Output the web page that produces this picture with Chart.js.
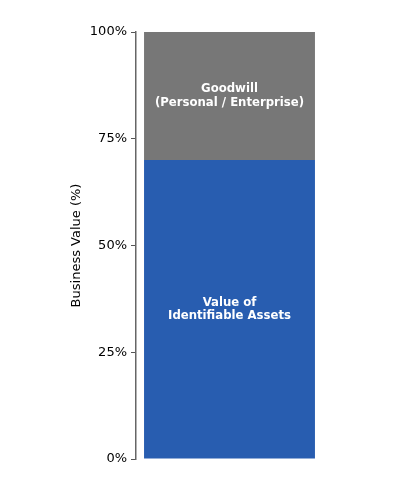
<!DOCTYPE html>
<html>
<head>
<meta charset="utf-8">
<script src="https://cdn.jsdelivr.net/npm/chart.js@4"></script>
<style>
  html, body { margin: 0; padding: 0; background: #fff; }
  #wrap { width: 402px; height: 492px; }
</style>
</head>
<body>
<div id="wrap"><canvas id="valueChart"></canvas></div>
<script>
// data
var categories = ['Business'];
var assetValues = [70];
var goodwillValues = [30];
var seriesNames = ['Value of\nIdentifiable Assets', 'Goodwill\n(Personal / Enterprise)'];
var yTicks = [0, 25, 50, 75, 100];

// write each segment's name in the middle of its bar piece
var segmentLabels = {
    id: 'segmentLabels',
    afterDatasetsDraw: function (chart) {
        var ctx = chart.ctx;
        ctx.save();
        ctx.fillStyle = '#ffffff';
        ctx.font = 'bold 11.7px "DejaVu Sans"';
        ctx.textAlign = 'center';
        ctx.textBaseline = 'middle';
        chart.data.datasets.forEach(function (ds, i) {
            var meta = chart.getDatasetMeta(i);
            meta.data.forEach(function (bar) {
                var cy = (bar.y + bar.base) / 2;
                var lines = ds.label.split('\n');
                var lh = 13.5;
                lines.forEach(function (line, k) {
                    ctx.fillText(line, bar.x, cy + (k - (lines.length - 1) / 2) * lh);
                });
            });
        });
        ctx.restore();
    }
};

var ctx = document.getElementById('valueChart').getContext('2d');
var valueChart = new Chart(ctx, {
    type: 'bar',
    data: {
        labels: categories,
        datasets: [
            {
                label: seriesNames[0],
                data: assetValues,
                backgroundColor: '#285db0',
                borderWidth: 0,
                categoryPercentage: 1,
                barPercentage: 0.914
            },
            {
                label: seriesNames[1],
                data: goodwillValues,
                backgroundColor: '#777777',
                borderWidth: 0,
                categoryPercentage: 1,
                barPercentage: 0.914
            }
        ]
    },
    options: {
        responsive: true,
        maintainAspectRatio: false,
        animation: false,
        layout: { padding: { left: 69, right: 79, top: 32, bottom: 33 } },
        plugins: {
            legend: { display: false },
            tooltip: { enabled: false }
        },
        scales: {
            x: {
                stacked: true,
                display: false
            },
            y: {
                stacked: true,
                min: 0,
                max: 100,
                afterFit: function (scale) { scale.width = 67; },
                afterBuildTicks: function (scale) {
                    scale.ticks = yTicks.map(function (v) { return { value: v }; });
                },
                ticks: {
                    color: '#000',
                    padding: 4,
                    font: { family: '"DejaVu Sans"', size: 13 },
                    callback: function (v) { return v + '%'; }
                },
                grid: {
                    drawOnChartArea: false,
                    drawTicks: true,
                    tickLength: 5,
                    color: '#555',
                    lineWidth: 1
                },
                border: { display: true, color: '#666', width: 1.5 },
                title: {
                    display: true,
                    text: 'Business Value (%)',
                    color: '#000',
                    padding: 0,
                    font: { family: '"DejaVu Sans"', size: 13 }
                }
            }
        }
    },
    plugins: [segmentLabels]
});
</script>
</body>
</html>
